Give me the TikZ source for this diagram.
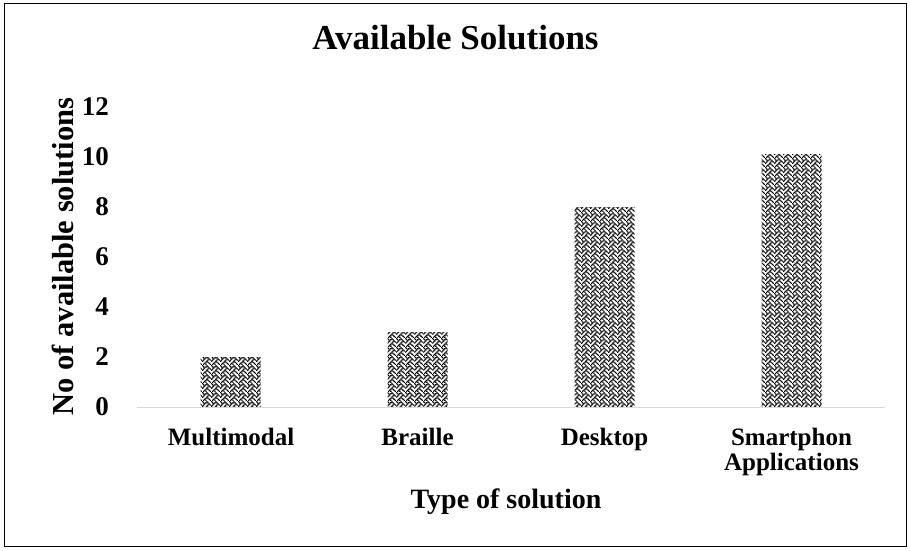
\documentclass[tikz,border=0pt]{standalone}
\usepackage{fontspec}
\setmainfont{Liberation Serif}
\usetikzlibrary{patterns}
\pgfdeclarepatternformonly{weave}{\pgfpointorigin}{\pgfpoint{8.8pt}{8.8pt}}{\pgfpoint{8.8pt}{8.8pt}}{%
  \foreach \px/\py in {0/7,4/7, 1/6,3/6,5/6, 2/5,6/5, 1/4,5/4,7/4, 0/3,4/3, 3/2,5/2, 2/1,6/1, 1/0,3/0,7/0}{%
    \pgfpathrectangle{\pgfpoint{1.1*\px pt}{1.1*\py pt}}{\pgfpoint{1.3pt}{1.3pt}}}%
  \pgfusepath{fill}}
\definecolor{axisgray}{HTML}{D9D9D9}
\begin{document}
\begin{tikzpicture}[x=1pt,y=-1pt,
  barbox/.style={pattern=weave, pattern color=black, draw=none},
  ticklab/.style={anchor=east, font=\fontsize{27}{28}\selectfont\bfseries, inner sep=0pt},
  catlab/.style={anchor=base, align=center, font=\fontsize{25}{24.5}\selectfont\bfseries, inner sep=0pt},
  axtitle/.style={anchor=base, font=\fontsize{28}{30}\selectfont\bfseries, inner sep=0pt}]
\useasboundingbox (0,0) rectangle (910,550);
\draw[line width=1.2pt] (4.5,3.5) rectangle (906.5,546.5);
\node[anchor=base, font=\fontsize{35}{36}\selectfont\bfseries, inner sep=0pt] (title) at (455.5,49) {Available Solutions};
% ticks
\foreach \v in {0,2,...,12}{
  \node[ticklab] (t\v) at (109,{407-25*\v}) {\v};
}
% bars
\fill[barbox] (200.5,407) rectangle (260.5,357);
\fill[barbox] (387.5,407) rectangle (447.5,332);
\fill[barbox] (574.5,407) rectangle (634.5,207);
\fill[barbox] (761.5,407) rectangle (821.5,154);
% axis
\coordinate (ax0) at (137,407);
\coordinate (ax1) at (885,407);
\draw[axisgray, line width=1pt] (ax0) -- (ax1);
% categories
\node[catlab] (c1) at (231,445) {Multimodal};
\node[catlab] (c2) at (417.5,445) {Braille};
\node[catlab] (c3) at (604.5,445) {Desktop};
\node[catlab, anchor=north] (c4) at (791.5,428) {Smartphon\\Applications};
% axis titles
\node[axtitle] (xt) at (506,508) {Type of solution};
\node[axtitle, font=\fontsize{30.5}{32}\selectfont\bfseries, rotate=90] (yt) at (73,256.5) {No of available solutions};
\end{tikzpicture}
\end{document}
